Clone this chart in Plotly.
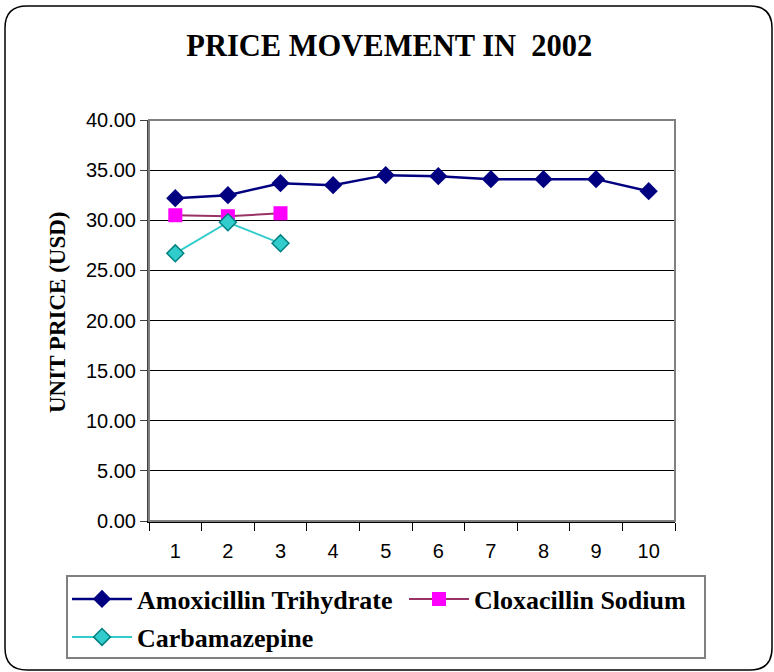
import plotly.graph_objects as go

# Monthly unit prices (USD)
months = ["1", "2", "3", "4", "5", "6", "7", "8", "9", "10"]
amoxicillin = [32.2, 32.5, 33.7, 33.5, 34.5, 34.4, 34.1, 34.1, 34.1, 32.9]
cloxacillin = [30.5, 30.4, 30.7]
carbamazepine = [26.7, 29.8, 27.7]
y_ticks = [0, 5, 10, 15, 20, 25, 30, 35, 40]

W, H = 774, 672
L, R, T, B = 149, 675, 120, 521  # plot area in pixels

SERIF = "Liberation Serif"
SANS = "Liberation Sans"


def px(x):
    return (x - L) / (R - L)


def py(y):
    return (B - y) / (B - T)


def rounded_rect(x0, y0, x1, y1, r):
    pts = [
        ("M", [(x0 + r, y0)]),
        ("L", [(x1 - r, y0)]),
        ("Q", [(x1, y0), (x1, y0 + r)]),
        ("L", [(x1, y1 - r)]),
        ("Q", [(x1, y1), (x1 - r, y1)]),
        ("L", [(x0 + r, y1)]),
        ("Q", [(x0, y1), (x0, y1 - r)]),
        ("L", [(x0, y0 + r)]),
        ("Q", [(x0, y0), (x0 + r, y0)]),
    ]
    out = []
    for cmd, coords in pts:
        out.append(cmd + " " + " ".join(f"{px(a):.5f},{py(b):.5f}" for a, b in coords))
    return " ".join(out) + " Z"


fig = go.Figure()

fig.add_trace(go.Scatter(
    x=months, y=amoxicillin, name="Amoxicillin Trihydrate",
    mode="lines+markers", legend="legend",
    line=dict(color="#000080", width=2.5),
    marker=dict(symbol="diamond", size=14, color="#000080"),
))
fig.add_trace(go.Scatter(
    x=months[:len(cloxacillin)], y=cloxacillin, name="Cloxacillin Sodium",
    mode="lines+markers", legend="legend",
    line=dict(color="#993366", width=2),
    marker=dict(symbol="square", size=14, color="#FF00FF"),
))
fig.add_trace(go.Scatter(
    x=months[:len(carbamazepine)], y=carbamazepine, name="Carbamazepine",
    mode="lines+markers", legend="legend2",
    line=dict(color="#33CCCC", width=2),
    marker=dict(symbol="diamond", size=13, color="#33CCCC",
                line=dict(color="#008080", width=1.5)),
))

shapes = [
    # outer rounded frame
    dict(type="path", xref="paper", yref="paper",
         path=rounded_rect(5, 6, 772, 670, 22),
         line=dict(color="black", width=1.5), layer="below"),
    # plot area border
    dict(type="rect", xref="paper", yref="paper", x0=0, y0=0, x1=1, y1=1,
         line=dict(color="#808080", width=2), layer="above"),
    # legend frame
    dict(type="rect", xref="paper", yref="paper",
         x0=px(67), x1=px(705), y0=py(576), y1=py(658),
         line=dict(color="#808080", width=2)),
]

legend_font = dict(family=SERIF, size=26, color="black", weight="bold")
legend_common = dict(
    orientation="h", xanchor="left", yanchor="middle",
    itemwidth=60, font=legend_font,
    bgcolor="rgba(0,0,0,0)", borderwidth=0, traceorder="normal",
)

fig.update_layout(
    width=W, height=H,
    margin=dict(l=L, r=W - R, t=T, b=H - B),
    paper_bgcolor="white", plot_bgcolor="white",
    title=dict(
        text="PRICE MOVEMENT IN \u00a02002",
        xref="container", x=0.503, xanchor="center",
        yref="container", y=1 - 45 / H, yanchor="middle",
        font=dict(family=SERIF, size=30.5, color="black", weight="bold"),
    ),
    showlegend=True,
    legend=dict(x=px(67), y=py(599), entrywidth=262, **legend_common),
    legend2=dict(x=px(67), y=py(637), **legend_common),
    shapes=shapes,
    annotations=[
        dict(text="UNIT PRICE (USD)", textangle=-90,
             xref="paper", yref="paper", x=px(57), y=py(312),
             xanchor="center", yanchor="middle", showarrow=False,
             font=dict(family=SERIF, size=23, color="black", weight="bold")),
    ],
)

fig.update_xaxes(
    type="category", categoryorder="array", categoryarray=months,
    range=[-0.5, len(months) - 0.5],
    tickson="boundaries", ticks="outside", ticklen=8, tickwidth=1,
    tickcolor="black", ticklabelstandoff=11,
    showline=True, linecolor="black", linewidth=1.5,
    showgrid=False, zeroline=False,
    tickfont=dict(family=SANS, size=20, color="black"),
)

fig.update_yaxes(
    range=[0, 40], tickvals=y_ticks, tickformat=".2f",
    ticks="outside", ticklen=7, tickcolor="#404040", tickwidth=1,
    showline=True, linecolor="#404040", linewidth=2,
    showgrid=True, gridcolor="black", gridwidth=1, zeroline=False,
    tickfont=dict(family=SANS, size=20, color="black"),
)

fig.write_html("out.html")
